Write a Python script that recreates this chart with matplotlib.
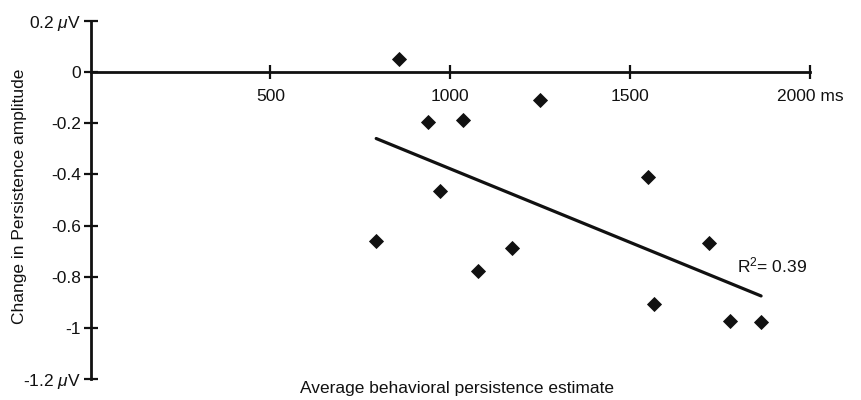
import numpy as np
import matplotlib
matplotlib.use("Agg")
import matplotlib.pyplot as plt

plt.rcParams["font.family"] = ["Liberation Sans", "DejaVu Sans"]
plt.rcParams["mathtext.fontset"] = "custom"
plt.rcParams["mathtext.rm"] = "Liberation Sans"
plt.rcParams["mathtext.it"] = "Liberation Sans:italic"

# persistence estimate (ms) vs change in amplitude (uV)
persistence_ms = [858, 937, 1034, 1250, 971, 1550, 794, 1172, 1077, 1718, 1566, 1777, 1864]
amplitude_change = [0.05, -0.194, -0.189, -0.108, -0.465, -0.41, -0.661, -0.689,
                    -0.776, -0.67, -0.905, -0.973, -0.978]

x_ticks = [500, 1000, 1500, 2000]
x_ticklabels = ["500", "1000", "1500", "2000 ms"]
y_ticks = [0.2, 0, -0.2, -0.4, -0.6, -0.8, -1, -1.2]
y_ticklabels = ["0.2 $\\mu$V", "0", "-0.2", "-0.4", "-0.6", "-0.8", "-1", "-1.2 $\\mu$V"]
r2_label = "R$^{2}$= 0.39"

ink = "#111111"
fs = 12.5

fig = plt.figure(figsize=(8.62, 4.0), dpi=100)
ax = fig.add_axes([90.6 / 862, 1 - 379 / 400, (810 - 90.6) / 862, (379 - 21) / 400])

xs = np.array(persistence_ms)
ys = np.array(amplitude_change)
ax.plot(xs, ys, linestyle="none", marker="D", markersize=6.8,
        color=ink, markeredgewidth=0.6, clip_on=False, zorder=3)

# least squares fit over the data range
slope, intercept = np.polyfit(xs, ys, 1)
fit_x = np.array([xs.min(), xs.max()])
ax.plot(fit_x, slope * fit_x + intercept, color=ink, linewidth=2.3,
        solid_capstyle="round", zorder=2)

ax.text(1798, -0.757, r2_label, fontsize=fs, color=ink, va="center", ha="left")

ax.set_xlim(0, 2000)
ax.set_ylim(-1.2, 0.2)
ax.spines["top"].set_visible(False)
ax.spines["right"].set_visible(False)
ax.spines["bottom"].set_position(("data", 0))
ax.spines["left"].set_position(("data", 0))
for side in ["bottom", "left"]:
    ax.spines[side].set_linewidth(2.0)
    ax.spines[side].set_color(ink)

ax.set_xticks(x_ticks)
ax.set_xticklabels(x_ticklabels)
ax.set_yticks(y_ticks)
ax.set_yticklabels(y_ticklabels)
ax.tick_params(axis="both", direction="inout", length=10, width=1.6,
               color=ink, labelcolor=ink, labelsize=fs)
ax.tick_params(axis="x", pad=7)
ax.tick_params(axis="y", pad=2)

fig.text(457 / 862, 1 - 388 / 400, "Average behavioral persistence estimate",
         ha="center", va="center", fontsize=fs, color=ink)
fig.text(20 / 862, 1 - 196 / 400, "Change in Persistence amplitude",
         ha="center", va="center", rotation=90, fontsize=fs, color=ink)

fig.savefig("out.png", dpi=100)
